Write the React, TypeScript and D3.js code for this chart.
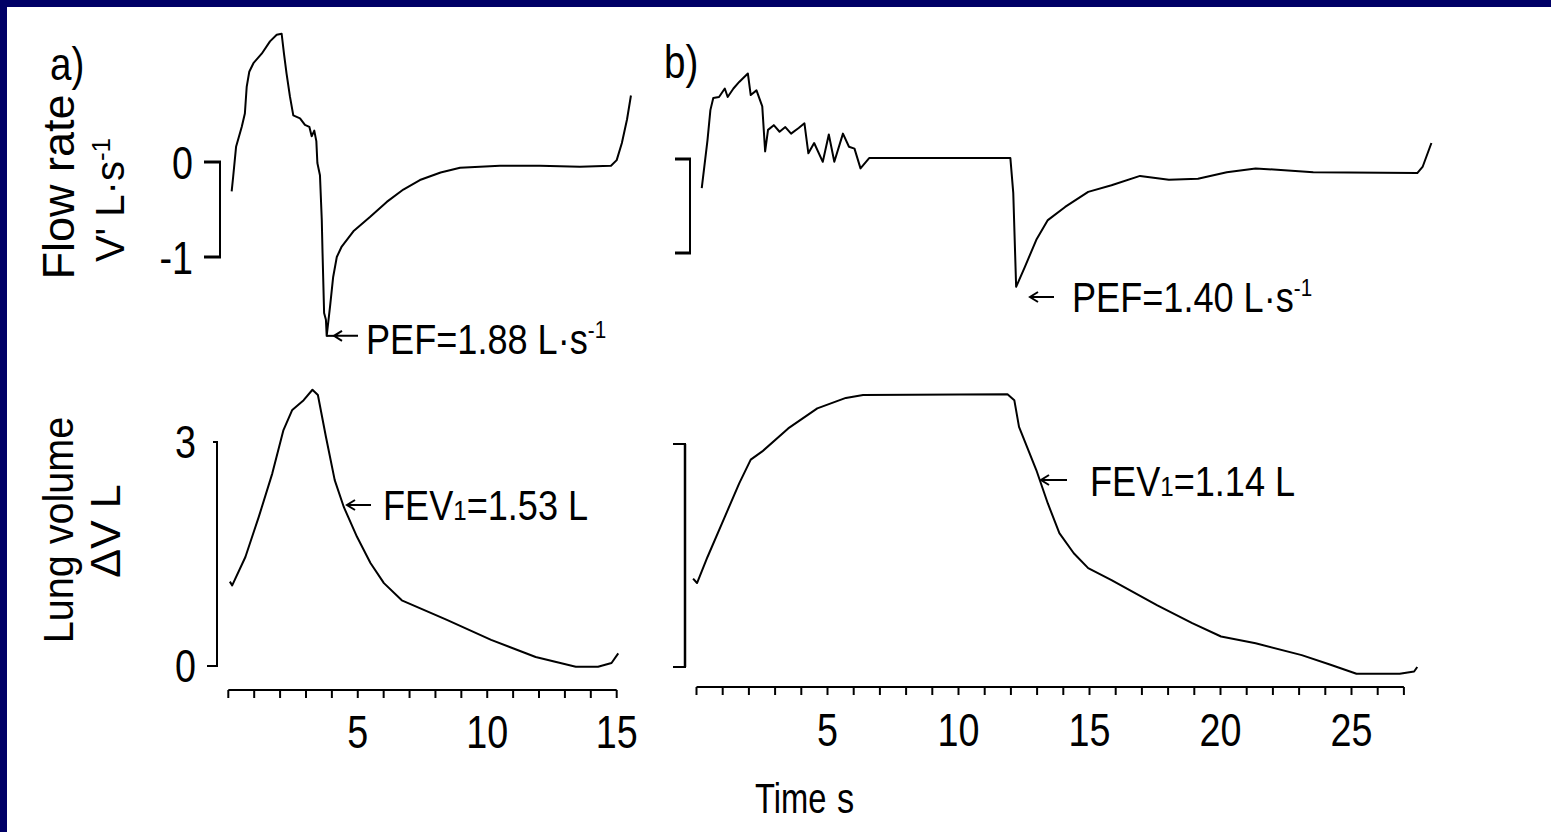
import React from 'react';
import * as d3 from 'd3';

const W = 1551;
const H = 832;
const NAVY = '#000066';
const FONT = '"Liberation Sans", Arial, Helvetica, sans-serif';

// ---- data: [time s, value] ----
const flowA: [number, number][] = [
  [0.13, -0.31], [0.19, -0.15], [0.3, 0.16], [0.52, 0.37], [0.64, 0.51], [0.71, 0.79], [0.81, 0.95],
  [0.97, 1.04], [1.29, 1.14], [1.61, 1.27], [1.87, 1.34], [2.06, 1.35], [2.15, 1.14], [2.25, 0.93],
  [2.38, 0.69], [2.51, 0.49], [2.77, 0.46], [2.96, 0.39], [3.13, 0.37], [3.22, 0.27], [3.32, 0.33],
  [3.4, 0.22], [3.44, -0.01], [3.54, -0.14], [3.61, -0.61], [3.64, -0.96], [3.7, -1.59], [3.77, -1.66],
  [3.8, -1.83], [3.93, -1.52], [4.05, -1.21], [4.19, -1.0], [4.38, -0.89], [4.83, -0.73], [5.47, -0.58],
  [6.12, -0.42], [6.76, -0.29], [7.4, -0.19], [8.2, -0.11], [8.95, -0.06], [10.49, -0.04], [12.03, -0.04],
  [13.58, -0.05], [14.78, -0.04], [15.0, 0.02], [15.2, 0.2], [15.4, 0.45], [15.55, 0.7],
];

const volA: [number, number][] = [
  [0.06, 1.13], [0.15, 1.08], [0.66, 1.46], [1.18, 2.0], [1.7, 2.58], [2.13, 3.16], [2.47, 3.43],
  [2.91, 3.56], [3.25, 3.7], [3.46, 3.63], [3.77, 3.07], [4.11, 2.49], [4.46, 2.13], [4.97, 1.73],
  [5.49, 1.38], [6.01, 1.11], [6.7, 0.88], [8.42, 0.62], [10.15, 0.35], [11.87, 0.12], [13.42, -0.01],
  [14.28, -0.01], [14.8, 0.04], [15.06, 0.17],
];

const flowB: [number, number][] = [
  [0.2, -0.31], [0.42, 0.2], [0.53, 0.52], [0.64, 0.65], [0.86, 0.66], [1.08, 0.75], [1.19, 0.66],
  [1.41, 0.75], [1.63, 0.82], [1.96, 0.91], [2.07, 0.68], [2.29, 0.73], [2.51, 0.56], [2.62, 0.08],
  [2.73, 0.31], [2.95, 0.36], [3.17, 0.29], [3.39, 0.34], [3.61, 0.27], [3.9, 0.33], [4.12, 0.38],
  [4.27, 0.06], [4.49, 0.17], [4.82, -0.03], [5.05, 0.26], [5.26, -0.03], [5.59, 0.27], [5.82, 0.13],
  [6.03, 0.11], [6.26, -0.1], [6.59, 0.01], [11.98, 0.01], [12.09, -0.36], [12.2, -1.36], [12.53, -1.15],
  [12.97, -0.86], [13.41, -0.65], [14.07, -0.51], [14.95, -0.35], [15.84, -0.28], [16.93, -0.18],
  [18.03, -0.22], [19.14, -0.21], [20.24, -0.14], [21.34, -0.1], [23.54, -0.14], [27.51, -0.15],
  [27.72, -0.08], [28.05, 0.17],
];

const volB: [number, number][] = [
  [-0.13, 1.19], [0.02, 1.13], [0.42, 1.48], [1.08, 2.02], [1.63, 2.47], [2.07, 2.79], [2.51, 2.9],
  [3.5, 3.21], [4.61, 3.48], [5.7, 3.62], [6.36, 3.66], [11.87, 3.67], [12.13, 3.59], [12.31, 3.23],
  [12.97, 2.65], [13.41, 2.2], [13.85, 1.8], [14.4, 1.53], [14.95, 1.33], [15.84, 1.17], [17.59, 0.83],
  [18.92, 0.59], [20.02, 0.41], [21.34, 0.32], [23.1, 0.16], [24.2, 0.03], [25.19, -0.09], [26.84, -0.09],
  [27.39, -0.06], [27.51, 0.0],
];

const ticksA = d3.range(0, 16);
const ticksB = d3.range(0, 28);
const tickLabelsA = [5, 10, 15];
const tickLabelsB = [5, 10, 15, 20, 25];
const flowLabels = [0, -1];
const volLabels = [3, 0];

// ---- scales ----
const xA = d3.scaleLinear().domain([0, 15]).range([228.3, 616.7]);
const xB = d3.scaleLinear().domain([0, 27]).range([696.5, 1403.9]);
const yFlowA = d3.scaleLinear().domain([-1, 0]).range([257, 162]);
const yFlowB = d3.scaleLinear().domain([-1, 0]).range([253, 159]);
const yVolA = d3.scaleLinear().domain([0, 3]).range([666, 442]);
const yVolB = d3.scaleLinear().domain([0, 3]).range([667, 444]);

const mkLine = (x: any, y: any) =>
  d3.line<[number, number]>().x((d) => x(d[0])).y((d) => y(d[1]));

const SX = 0.84;

function HText(props: { x: number; y: number; size: number; anchor?: string; sx?: number; children: any }) {
  const { x, y, size, anchor = 'start', sx = SX, children } = props;
  return (
    <text
      transform={`translate(${x},${y}) scale(${sx},1)`}
      fontSize={size}
      textAnchor={anchor as any}
      fontFamily={FONT}
      fill="#000"
    >
      {children}
    </text>
  );
}

function VText(props: { x: number; y: number; size: number; s?: number; children: any }) {
  const { x, y, size, s = 1, children } = props;
  return (
    <text
      transform={`translate(${x},${y}) rotate(-90) scale(${s},1)`}
      fontSize={size}
      textAnchor="middle"
      fontFamily={FONT}
      fill="#000"
    >
      {children}
    </text>
  );
}

function Arrow({ x, y, len }: { x: number; y: number; len: number }) {
  return (
    <path
      d={`M${x},${y}H${x + len}M${x + 8},${y - 5}L${x},${y}L${x + 8},${y + 5}`}
      fill="none"
      stroke="#000"
      strokeWidth={2}
    />
  );
}

function Bracket({ x, yTop, yBot, wTop, wBot, tw = 3, vw = 2 }: any) {
  return (
    <g stroke="#000" fill="none">
      <path d={`M${x},${yTop}V${yBot}`} strokeWidth={vw} />
      <path d={`M${x - wTop},${yTop}H${x + 1}`} strokeWidth={tw} />
      <path d={`M${x - wBot},${yBot}H${x + 1}`} strokeWidth={tw} />
    </g>
  );
}

function XAxis({ x, y, ticks, labels, labelY }: any) {
  const [r0, r1] = x.range();
  return (
    <g>
      <path d={`M${r0},${y}H${r1}`} stroke="#000" strokeWidth={2} fill="none" />
      {ticks.map((t: number) => (
        <path key={t} d={`M${x(t)},${y}V${y + 8}`} stroke="#000" strokeWidth={2} />
      ))}
      {labels.map((t: number) => (
        <HText key={t} x={x(t)} y={labelY} size={46} anchor="middle" sx={0.82}>
          {String(t)}
        </HText>
      ))}
    </g>
  );
}

export default function App() {
  const lineFlowA = mkLine(xA, yFlowA)(flowA) || '';
  const lineVolA = mkLine(xA, yVolA)(volA) || '';
  const lineFlowB = mkLine(xB, yFlowB)(flowB) || '';
  const lineVolB = mkLine(xB, yVolB)(volB) || '';
  const curve = { fill: 'none', stroke: '#000', strokeWidth: 2, strokeLinejoin: 'round' as const };

  return (
    <svg
      width={W}
      height={H}
      viewBox={`0 0 ${W} ${H}`}
      style={{ position: 'absolute', left: 0, top: 0, display: 'block', background: '#fff' }}
    >
      <rect x={0} y={0} width={W} height={H} fill="#fff" />
      <rect x={0} y={0} width={W} height={7} fill={NAVY} />
      <rect x={0} y={0} width={7} height={H} fill={NAVY} />

      {/* panel labels */}
      <HText x={50} y={80} size={46}>a)</HText>
      <HText x={664} y={78} size={46}>b)</HText>

      {/* y-axis titles */}
      <VText x={74} y={187} size={45}>Flow rate</VText>
      <VText x={124} y={200} size={40}>
        V' L·s<tspan fontSize={26} dy={-14}>-1</tspan>
      </VText>
      <VText x={73} y={530} size={43} s={0.92}>Lung volume</VText>
      <VText x={120} y={531} size={43}>ΔV L</VText>

      {/* y brackets */}
      <Bracket x={220} yTop={yFlowA(0)} yBot={yFlowA(-1)} wTop={16} wBot={16} />
      <Bracket x={217} yTop={yVolA(3)} yBot={yVolA(0)} wTop={4} wBot={10} tw={2} />
      <Bracket x={690} yTop={yFlowB(0)} yBot={yFlowB(-1)} wTop={15} wBot={15} />
      <Bracket x={685} yTop={yVolB(3)} yBot={yVolB(0)} wTop={12} wBot={12} tw={2} vw={2.5} />

      {/* y tick labels */}
      {flowLabels.map((v) => (
        <HText key={'fl' + v} x={193} y={yFlowA(v) + 17} size={46} anchor="end" sx={0.82}>
          {String(v)}
        </HText>
      ))}
      {volLabels.map((v) => (
        <HText key={'vl' + v} x={196} y={yVolA(v) + 16} size={46} anchor="end" sx={0.82}>
          {String(v)}
        </HText>
      ))}

      {/* curves */}
      <path d={lineFlowA} {...curve} />
      <path d={lineVolA} {...curve} />
      <path d={lineFlowB} {...curve} />
      <path d={lineVolB} {...curve} />

      {/* x axes */}
      <XAxis x={xA} y={690} ticks={ticksA} labels={tickLabelsA} labelY={748} />
      <XAxis x={xB} y={687} ticks={ticksB} labels={tickLabelsB} labelY={746} />

      {/* annotations */}
      <path d={`M${xA(3.8)},${yFlowA(-1.83)}H334`} stroke="#000" strokeWidth={2} />
      <Arrow x={334} y={yFlowA(-1.83)} len={24} />
      <HText x={366} y={354} size={42} sx={0.86}>
        PEF=1.88 L·s<tspan fontSize={24} dy={-16}>-1</tspan>
      </HText>

      <Arrow x={347} y={505} len={24} />
      <HText x={383} y={520} size={42} sx={0.86}>
        FEV<tspan fontSize={28}>1</tspan>=1.53 L
      </HText>

      <Arrow x={1030} y={297} len={24} />
      <HText x={1072} y={312} size={42} sx={0.86}>
        PEF=1.40 L·s<tspan fontSize={24} dy={-16}>-1</tspan>
      </HText>

      <Arrow x={1041} y={480} len={26} />
      <HText x={1090} y={496} size={42} sx={0.86}>
        FEV<tspan fontSize={28}>1</tspan>=1.14 L
      </HText>

      {/* x axis title */}
      <HText x={755} y={813} size={43} sx={0.76}>Time</HText>
      <HText x={837} y={813} size={43} sx={0.8}>s</HText>
    </svg>
  );
}
